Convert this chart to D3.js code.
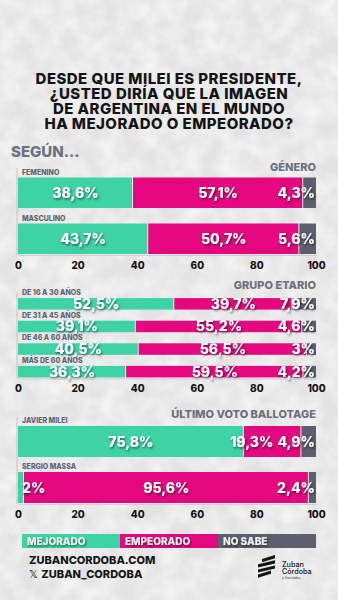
<!DOCTYPE html>
<html>
<head>
<meta charset="utf-8">
<script src="https://cdn.jsdelivr.net/npm/d3@7"></script>
<style>
  html, body { margin: 0; padding: 0; background: #e6e6e6; }
  svg { display: block; font-family: Inter, "Noto Sans", sans-serif; }
</style>
</head>
<body>
<svg id="chart" width="338" height="600"></svg>
<script>
// ---- text ----
const titleLines = [
  "DESDE QUE MILEI ES PRESIDENTE,",
  "¿USTED DIRÍA QUE LA IMAGEN",
  "DE ARGENTINA EN EL MUNDO",
  "HA MEJORADO O EMPEORADO?"
];
const subtitle = "SEGÚN...";

// ---- series ----
const seriesNames = ["MEJORADO", "EMPEORADO", "NO SABE"];
const seriesColors = ["#3ed3a4", "#e5077f", "#5c5f6e"];
const tickValues = [0, 20, 40, 60, 80, 100];

// Género
const genderTitle = "GÉNERO";
const genderCats = ["FEMENINO", "MASCULINO"];
const genderMejorado = [38.6, 43.7];
const genderEmpeorado = [57.1, 50.7];
const genderNoSabe = [4.3, 5.6];

// Grupo etario
const ageTitle = "GRUPO ETARIO";
const ageCats = ["DE 16 A 30 AÑOS", "DE 31 A 45 AÑOS", "DE 46 A 60 AÑOS", "MÁS DE 60 AÑOS"];
const ageMejorado = [52.5, 39.1, 40.5, 36.3];
const ageEmpeorado = [39.7, 55.2, 56.5, 59.5];
const ageNoSabe = [7.9, 4.6, 3, 4.2];

// Último voto ballotage
const voteTitle = "ÚLTIMO VOTO BALLOTAGE";
const voteCats = ["JAVIER MILEI", "SERGIO MASSA"];
const voteMejorado = [75.8, 2];
const voteEmpeorado = [19.3, 95.6];
const voteNoSabe = [4.9, 2.4];

// ---- footer ----
const footerSite = "ZUBANCORDOBA.COM";
const footerHandle = "ZUBAN_CORDOBA";
const brandLines = ["Zuban", "Córdoba"];
const brandTag = "y Asociados";

// ------------------------------------------------------------
const W = 338, H = 600;
const svg = d3.select("#chart");
const defs = svg.append("defs");

// concrete-like backdrop: pale patches over a light grey base
const tex = defs.append("filter").attr("id", "concrete")
  .attr("x", 0).attr("y", 0).attr("width", "100%").attr("height", "100%");
tex.append("feTurbulence").attr("type", "fractalNoise")
  .attr("baseFrequency", "0.05").attr("numOctaves", 4).attr("seed", 7);
tex.append("feColorMatrix").attr("type", "matrix")
  .attr("values", "0 0 0 0 1  0 0 0 0 1  0 0 0 0 1  2.0 0 0 0 -0.6");

const shadow = defs.append("filter").attr("id", "txtShadow")
  .attr("x", "-20%").attr("y", "-40%").attr("width", "140%").attr("height", "180%");
shadow.append("feDropShadow").attr("dx", 1).attr("dy", 1.5)
  .attr("stdDeviation", 1.1).attr("flood-color", "#000").attr("flood-opacity", 0.55);

svg.append("rect").attr("width", W).attr("height", H).attr("fill", "#e3e3e3");
svg.append("rect").attr("width", W).attr("height", H).attr("filter", "url(#concrete)").attr("opacity", 0.6);

// ---- title ----
svg.append("g").selectAll("text").data(titleLines).join("text")
  .attr("x", 169).attr("y", (d, i) => 83.5 + i * 15)
  .attr("text-anchor", "middle")
  .attr("font-size", 15).attr("font-weight", 800).attr("letter-spacing", 0.45)
  .attr("fill", "#141414")
  .text(d => d);

svg.append("text").attr("x", 11).attr("y", 156.5)
  .attr("font-size", 15).attr("font-weight", 800).attr("fill", "#6c7080")
  .text(subtitle);

// ---- shared horizontal scale ----
const x = d3.scaleLinear().domain([0, 100]).range([18, 316]);
const fmt = v => (Number.isInteger(v) ? String(v) : v.toFixed(1).replace(".", ",")) + "%";

function drawPanel(p) {
  const g = svg.append("g");
  const rows = p.cats.map((c, i) => ({
    cat: c, "MEJORADO": p.mejorado[i], "EMPEORADO": p.empeorado[i], "NO SABE": p.noSabe[i]
  }));
  const stacked = d3.stack().keys(seriesNames).offset(d3.stackOffsetExpand)(rows);

  const y = d3.scaleBand().domain(p.cats)
    .range([p.top, p.top + p.step * p.cats.length]).padding(0);
  const barTop = c => y(c) + y.bandwidth() - p.barH;
  const axisY = barTop(p.cats[p.cats.length - 1]) + p.barH + 1;

  // left guide line
  g.append("line").attr("x1", x(0) - 1).attr("x2", x(0) - 1)
    .attr("y1", p.top + 6).attr("y2", axisY)
    .attr("stroke", "#c4c4c4").attr("stroke-width", 1);

  // header
  g.append("text").attr("x", x(100)).attr("y", p.headerY)
    .attr("text-anchor", "end").attr("font-size", 11).attr("font-weight", 800)
    .attr("fill", "#6c7080").text(p.title);

  // row labels
  g.selectAll("text.cat").data(p.cats).join("text").attr("class", "cat")
    .attr("x", x(0) + 4).attr("y", c => barTop(c) - 3)
    .attr("font-size", 7).attr("font-weight", 800).attr("fill", "#5f6372")
    .text(c => c);

  // segments
  stacked.forEach((s, si) => {
    g.append("g").selectAll("rect").data(s).join("rect")
      .attr("x", d => x(d[0] * 100))
      .attr("y", d => barTop(d.data.cat))
      .attr("width", d => Math.max(0, x(d[1] * 100) - x(d[0] * 100) - (si < 2 ? 1 : 0)))
      .attr("height", p.barH)
      .attr("fill", seriesColors[si]);
  });

  // value labels
  p.cats.forEach((c, ri) => {
    const cy = barTop(c) + p.barH / 2;
    const made = [];
    stacked.forEach((s, si) => {
      const d = s[ri];
      const v = d.data[seriesNames[si]];
      const x0 = x(d[0] * 100), x1 = x(d[1] * 100);
      const t = g.append("text")
        .attr("y", cy).attr("dy", "0.36em")
        .attr("font-size", 14).attr("font-weight", 800).attr("fill", "#fff")
        .attr("filter", "url(#txtShadow)")
        .text(fmt(v));
      const w = t.node().getComputedTextLength();
      let left;
      if (si === 2) left = x(100) - 1 - w;
      else if (x1 - x0 < w) left = x0 + 4;
      else left = (x0 + x1) / 2 - w / 2;
      made.push({ t, w, left });
    });
    // keep the middle label clear of its neighbours
    const [a, b, c2] = made;
    if (b.left + b.w > c2.left - 4) b.left = c2.left - 4 - b.w;
    if (b.left < a.left + a.w + 4) b.left = a.left + a.w + 4;
    made.forEach(m => m.t.attr("x", m.left));
  });

  // axis
  const ax = g.append("g").attr("transform", `translate(0,${axisY})`)
    .call(d3.axisBottom(x).tickValues(tickValues).tickSize(0).tickPadding(7));
  ax.select(".domain").attr("stroke", "#cfcfcf");
  ax.selectAll("text").attr("font-size", 10).attr("font-weight", 800)
    .attr("fill", "#141414").attr("font-family", "Inter, sans-serif");
}

drawPanel({ title: genderTitle, cats: genderCats, mejorado: genderMejorado,
  empeorado: genderEmpeorado, noSabe: genderNoSabe,
  top: 162, step: 46, barH: 30.5, headerY: 170.5 });

drawPanel({ title: ageTitle, cats: ageCats, mejorado: ageMejorado,
  empeorado: ageEmpeorado, noSabe: ageNoSabe,
  top: 287, step: 22.6, barH: 11.5, headerY: 289 });

drawPanel({ title: voteTitle, cats: voteCats, mejorado: voteMejorado,
  empeorado: voteEmpeorado, noSabe: voteNoSabe,
  top: 411, step: 46, barH: 31, headerY: 417.7 });

// ---- legend ----
const lx = d3.scaleBand().domain(seriesNames).range([22, 316]);
const lg = svg.append("g");
lg.selectAll("rect").data(seriesNames).join("rect")
  .attr("x", d => lx(d)).attr("y", 534).attr("width", lx.bandwidth()).attr("height", 14)
  .attr("fill", (d, i) => seriesColors[i]);
lg.selectAll("text").data(seriesNames).join("text")
  .attr("x", d => lx(d) + 5).attr("y", 544.6)
  .attr("font-size", 10).attr("font-weight", 800).attr("fill", "#eef4f1")
  .attr("filter", "url(#txtShadow)")
  .text(d => d);

// ---- footer ----
svg.append("text").attr("x", 29).attr("y", 564.3)
  .attr("font-size", 11).attr("font-weight", 800).attr("fill", "#161616")
  .text(footerSite);
const handle = svg.append("text").attr("x", 29).attr("y", 578.3)
  .attr("font-size", 11).attr("font-weight", 800).attr("fill", "#161616");
handle.append("tspan").attr("font-family", "DejaVu Sans").attr("font-weight", 400).text("𝕏 ");
handle.append("tspan").text(footerHandle);

// brand mark
const stripes = [0, 1, 2, 3];
svg.append("g").selectAll("path").data(stripes).join("path")
  .attr("d", i => {
    const yb = 559 + i * 5.2;
    const l = i === 0 ? 262 : 258, r = i === 3 ? 271 : 275;
    return `M${l},${yb} L${r},${yb - 4} L${r},${yb - 0.8} L${l},${yb + 3.2}Z`;
  })
  .attr("fill", "#151515");
svg.append("g").selectAll("text").data(brandLines).join("text")
  .attr("x", 282).attr("y", (d, i) => 566.5 + i * 7.2)
  .attr("font-size", 7.2).attr("font-weight", 500).attr("fill", "#151515")
  .text(d => d);
svg.append("text").attr("x", 282).attr("y", 578.5)
  .attr("font-size", 3.2).attr("fill", "#333").text(brandTag);
</script>
</body>
</html>
